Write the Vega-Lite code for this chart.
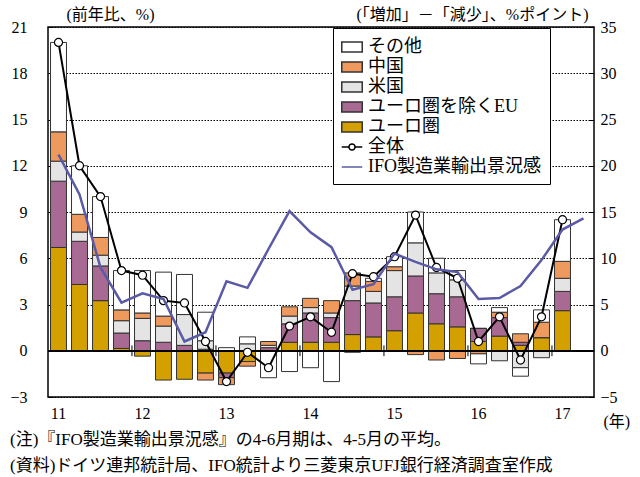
{
  "$schema": "https://vega.github.io/schema/vega-lite/v6.json",
  "autosize": "none",
  "width": 546,
  "height": 370,
  "padding": {"left": 48, "top": 27, "right": 46, "bottom": 80},
  "background": "white",
  "config": {
    "font": "Liberation Serif, 'Noto Sans CJK JP'",
    "view": {"stroke": "black", "strokeWidth": 1.5},
    "axis": {"labelFontSize": 16, "labelColor": "black", "titleFontSize": 16, "titleFontWeight": "normal", "titleColor": "black", "labelFont": "Liberation Serif, 'Noto Sans CJK JP'", "titleFont": "Liberation Serif, 'Noto Sans CJK JP'"}
  },
  "title": {
    "text": ["(注)『IFO製造業輸出景況感』の4-6月期は、4-5月の平均。", "(資料)ドイツ連邦統計局、IFO統計より三菱東京UFJ銀行経済調査室作成"],
    "orient": "bottom", "anchor": "start", "fontSize": 17, "fontWeight": "normal", "color": "black",
    "font": "Liberation Serif, 'Noto Sans CJK JP'", "lineHeight": 26, "dx": 0, "offset": 3
  },
  "data": {"values": [
    {"q": "2011Q1", "ユーロ圏": 6.7, "ユーロ圏を除くEU": 4.3, "米国": 1.3, "中国": 1.9, "その他": 5.8, "全体": 20.0, "IFO製造業輸出景況感": 21.2},
    {"q": "2011Q2", "ユーロ圏": 4.3, "ユーロ圏を除くEU": 2.8, "米国": 0.6, "中国": 1.15, "その他": 3.15, "全体": 12.0, "IFO製造業輸出景況感": 16.9},
    {"q": "2011Q3", "ユーロ圏": 3.25, "ユーロ圏を除くEU": 2.25, "米国": 0.7, "中国": 1.15, "その他": 2.65, "全体": 10.0, "IFO製造業輸出景況感": 9.0},
    {"q": "2011Q4", "ユーロ圏": 0.15, "ユーロ圏を除くEU": 1.0, "米国": 0.8, "中国": 0.7, "その他": 2.55, "全体": 5.2, "IFO製造業輸出景況感": 5.2},
    {"q": "2012Q1", "ユーロ圏": -0.35, "ユーロ圏を除くEU": 0.65, "米国": 1.45, "中国": 0.35, "その他": 2.75, "全体": 4.9, "IFO製造業輸出景況感": 6.2},
    {"q": "2012Q2", "ユーロ圏": -1.9, "ユーロ圏を除くEU": 0.55, "米国": 1.05, "中国": 0.65, "その他": 2.85, "全体": 3.25, "IFO製造業輸出景況感": 5.6},
    {"q": "2012Q3", "ユーロ圏": -1.85, "ユーロ圏を除くEU": 0.35, "米国": 2.0, "中国": 0, "その他": 2.6, "全体": 3.1, "IFO製造業輸出景況感": 1.0},
    {"q": "2012Q4", "ユーロ圏": -1.45, "ユーロ圏を除くEU": 0.1, "米国": 0.55, "中国": -0.45, "その他": 1.85, "全体": 0.6, "IFO製造業輸出景況感": 2.0},
    {"q": "2013Q1", "ユーロ圏": -1.45, "ユーロ圏を除くEU": -0.3, "米国": 0, "中国": -0.45, "その他": 0.2, "全体": -2.0, "IFO製造業輸出景況感": 7.5},
    {"q": "2013Q2", "ユーロ圏": -0.7, "ユーロ圏を除くEU": 0, "米国": 0.45, "中国": -0.3, "その他": 0.45, "全体": -0.1, "IFO製造業輸出景況感": 6.8},
    {"q": "2013Q3", "ユーロ圏": 0, "ユーロ圏を除くEU": 0.2, "米国": 0.15, "中国": 0.25, "その他": -1.75, "全体": -1.1, "IFO製造業輸出景況感": 11.0},
    {"q": "2013Q4", "ユーロ圏": 0.55, "ユーロ圏を除くEU": 1.2, "米国": 0.5, "中国": 0.6, "その他": -1.35, "全体": 1.6, "IFO製造業輸出景況感": 15.1},
    {"q": "2014Q1", "ユーロ圏": 0.55, "ユーロ圏を除くEU": 1.9, "米国": 0.35, "中国": 0.6, "その他": -1.1, "全体": 2.2, "IFO製造業輸出景況感": 12.8},
    {"q": "2014Q2", "ユーロ圏": 0.55, "ユーロ圏を除くEU": 1.6, "米国": 0.3, "中国": 0.8, "その他": -2.0, "全体": 1.2, "IFO製造業輸出景況感": 11.2},
    {"q": "2014Q3", "ユーロ圏": 1.05, "ユーロ圏を除くEU": 2.2, "米国": 0.95, "中国": 0.85, "その他": -0.1, "全体": 5.0, "IFO製造業輸出景況感": 6.6},
    {"q": "2014Q4", "ユーロ圏": 0.9, "ユーロ圏を除くEU": 2.2, "米国": 0.75, "中国": 0.65, "その他": 0.2, "全体": 4.8, "IFO製造業輸出景況感": 7.2},
    {"q": "2015Q1", "ユーロ圏": 1.3, "ユーロ圏を除くEU": 2.2, "米国": 1.7, "中国": 0.25, "その他": 0.65, "全体": 6.1, "IFO製造業輸出景況感": 10.5},
    {"q": "2015Q2", "ユーロ圏": 2.45, "ユーロ圏を除くEU": 2.4, "米国": 2.15, "中国": -0.25, "その他": 2.0, "全体": 8.8, "IFO製造業輸出景況感": 9.6},
    {"q": "2015Q3", "ユーロ圏": 1.75, "ユーロ圏を除くEU": 1.95, "米国": 1.35, "中国": -0.6, "その他": 0.95, "全体": 5.4, "IFO製造業輸出景況感": 8.8},
    {"q": "2015Q4", "ユーロ圏": 1.55, "ユーロ圏を除くEU": 1.95, "米国": 1.1, "中国": -0.5, "その他": 0.6, "全体": 4.7, "IFO製造業輸出景況感": 8.5},
    {"q": "2016Q1", "ユーロ圏": 0.6, "ユーロ圏を除くEU": 0.85, "米国": 0, "中国": -0.2, "その他": -0.65, "全体": 0.6, "IFO製造業輸出景況感": 5.6},
    {"q": "2016Q2", "ユーロ圏": 0.95, "ユーロ圏を除くEU": 1.2, "米国": -0.65, "中国": 0.35, "その他": 0.3, "全体": 2.2, "IFO製造業輸出景況感": 5.7},
    {"q": "2016Q3", "ユーロ圏": 0.35, "ユーロ圏を除くEU": 0.2, "米国": -1.1, "中国": 0.55, "その他": -0.55, "全体": -0.6, "IFO製造業輸出景況感": 7.0},
    {"q": "2016Q4", "ユーロ圏": 0.85, "ユーロ圏を除くEU": 0, "米国": -0.45, "中国": 1.0, "その他": 0.8, "全体": 2.2, "IFO製造業輸出景況感": 9.8},
    {"q": "2017Q1", "ユーロ圏": 2.6, "ユーロ圏を除くEU": 1.25, "米国": 0.85, "中国": 1.1, "その他": 2.7, "全体": 8.5, "IFO製造業輸出景況感": 13.1},
    {"q": "2017Q2", "IFO製造業輸出景況感": 14.3}
  ]},
  "layer": [
    {
      "layer": [
        {
          "transform": [
            {"fold": ["ユーロ圏", "ユーロ圏を除くEU", "米国", "中国", "その他"], "as": ["s", "v"]},
            {"filter": "isValid(datum.v)"},
            {"window": [{"op": "row_number", "as": "o"}], "groupby": ["q"]}
          ],
          "mark": {"type": "bar", "stroke": "#333", "strokeWidth": 1},
          "encoding": {
            "x": {"field": "q", "type": "ordinal", "scale": {"paddingInner": 0.24, "paddingOuter": 0.12},
              "axis": {"title": "(年)", "labelExpr": "indexof(datum.value,'Q1')>0 ? substring(datum.value,2,4) : ''", "labelAngle": 0, "ticks": false, "domain": false, "labelPadding": 8, "labelFontSize": 16,
                "titleX": 555, "titleY": 24, "titleAlign": "left", "titleBaseline": "middle", "titleFontSize": 16}},
            "y": {"field": "v", "type": "quantitative", "stack": "zero", "scale": {"domain": [-3, 21], "nice": false, "zero": false},
              "axis": {"values": [-3, 0, 3, 6, 9, 12, 15, 18, 21], "tickSize": -5, "tickColor": "black", "labelPadding": 26, "domain": false,
                "grid": true, "gridColor": "black", "gridDash": [1.5, 1.5], "gridWidth": 1,
                "title": "(前年比、%)", "titleAngle": 0, "titleX": 18, "titleY": -13, "titleAlign": "left", "titleBaseline": "middle"}},
            "color": {"field": "s", "type": "nominal",
              "scale": {"domain": ["その他", "中国", "米国", "ユーロ圏を除くEU", "ユーロ圏", "全体", "IFO製造業輸出景況感"],
                        "range": ["#ffffff", "#EE9A5E", "#E4E4E4", "#A86A93", "#D4A000", "#ffffff", "#5A5AA6"]},
              "legend": {"title": null, "orient": "none", "legendX": 285, "legendY": 1, "strokeColor": "black", "fillColor": "white", "padding": 8,
                "labelFontSize": 18, "labelFont": "Liberation Serif, 'Noto Sans CJK JP'", "labelColor": "black", "labelLimit": 400, "symbolSize": 420, "rowPadding": -11.5, "labelOffset": 5,
                "symbolOpacity": 1, "symbolStrokeWidth": 1.5}},
            "order": {"field": "o", "type": "quantitative"}
          }
        },
        {
          "transform": [{"filter": "false"}],
          "mark": {"type": "point", "filled": true},
          "encoding": {
            "shape": {"field": "s", "type": "nominal",
              "scale": {"domain": ["その他", "中国", "米国", "ユーロ圏を除くEU", "ユーロ圏", "全体", "IFO製造業輸出景況感"],
                        "range": ["M-1,-0.5H1V0.5H-1Z", "M-1,-0.5H1V0.5H-1Z", "M-1,-0.5H1V0.5H-1Z", "M-1,-0.5H1V0.5H-1Z", "M-1,-0.5H1V0.5H-1Z",
                                  "M-1,0H-0.3M0.3,0H1M0.3,0A0.3,0.3 0 1 0 -0.3,0A0.3,0.3 0 1 0 0.3,0", "M-1,0H1"]}},
            "stroke": {"field": "s", "type": "nominal",
              "scale": {"domain": ["その他", "中国", "米国", "ユーロ圏を除くEU", "ユーロ圏", "全体", "IFO製造業輸出景況感"],
                        "range": ["#333333", "#333333", "#333333", "#333333", "#333333", "#000000", "#5A5AA6"]}}
          }
        },
        {
          "mark": {"type": "rule", "color": "black", "strokeWidth": 1},
          "encoding": {"y": {"datum": 0}}
        },
        {
          "transform": [{"filter": "indexof(datum.q,'Q1')>0 && datum.q!=='2011Q1'"}],
          "mark": {"type": "rule", "color": "black", "strokeWidth": 1},
          "encoding": {
            "x": {"field": "q", "type": "ordinal", "bandPosition": -0.16},
            "y": {"datum": -0.35},
            "y2": {"datum": 0.35}
          }
        },
        {
          "transform": [{"filter": "isValid(datum['全体'])"}],
          "mark": {"type": "line", "strokeWidth": 2, "color": "black"},
          "encoding": {
            "x": {"field": "q", "type": "ordinal"},
            "y": {"field": "全体", "type": "quantitative"}
          }
        },
        {
          "transform": [{"filter": "isValid(datum['全体'])"}],
          "mark": {"type": "point", "shape": "circle", "filled": true, "fill": "white", "stroke": "black", "strokeWidth": 1.2, "size": 65, "opacity": 1},
          "encoding": {
            "x": {"field": "q", "type": "ordinal"},
            "y": {"field": "全体", "type": "quantitative"}
          }
        }
      ]
    },
    {
      "transform": [{"filter": "isValid(datum['IFO製造業輸出景況感'])"}],
      "mark": {"type": "line", "strokeWidth": 2.5, "color": "#5A5AA6"},
      "encoding": {
        "x": {"field": "q", "type": "ordinal"},
        "y": {"field": "IFO製造業輸出景況感", "type": "quantitative", "scale": {"domain": [-5, 35], "nice": false, "zero": false},
          "axis": {"orient": "right", "values": [-5, 0, 5, 10, 15, 20, 25, 30, 35], "tickSize": -5, "tickColor": "black", "labelPadding": 11, "domain": false, "grid": false,
            "title": "(「増加」－「減少」、%ポイント)", "titleAngle": 0, "titleX": -6, "titleY": -13, "titleAlign": "right", "titleBaseline": "middle"}}
      }
    }
  ],
  "resolve": {"scale": {"y": "independent"}}
}
